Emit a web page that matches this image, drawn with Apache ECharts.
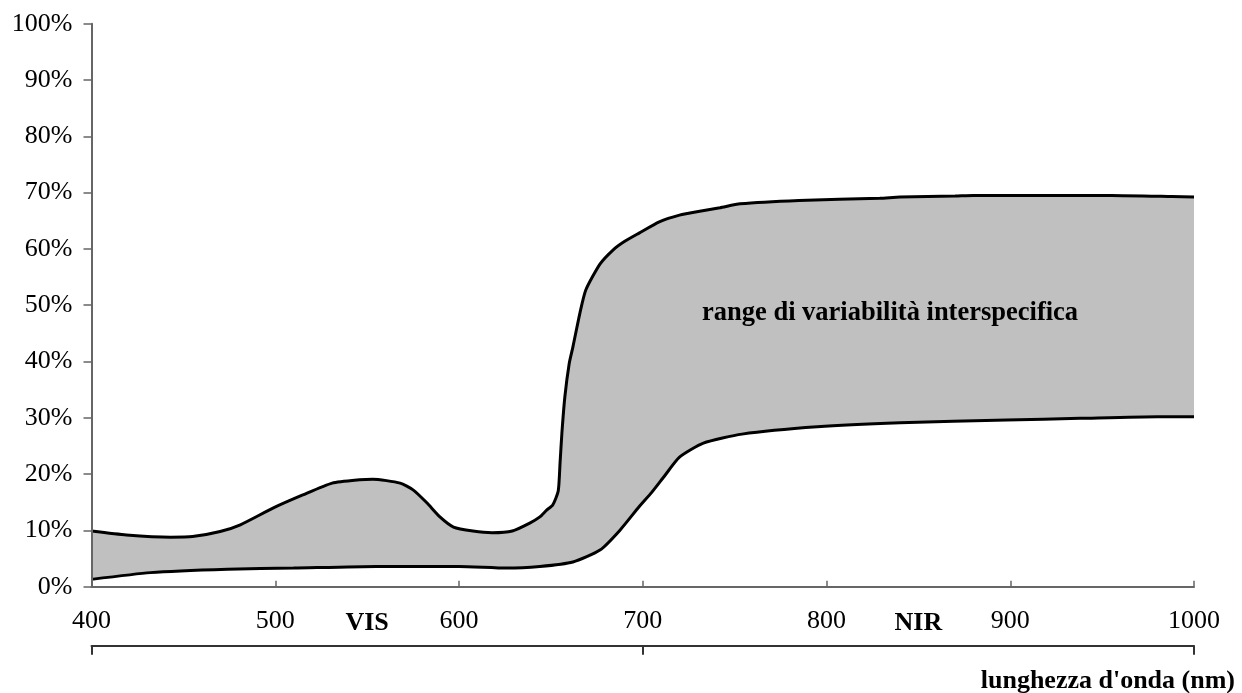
<!DOCTYPE html>
<html>
<head>
<meta charset="utf-8">
<script src="https://cdn.jsdelivr.net/npm/echarts@6/dist/echarts.min.js"></script>
<style>
  html, body { margin: 0; padding: 0; background: #fff; }
  #chart { width: 1242px; height: 693px; }
</style>
</head>
<body>
<div id="chart"></div>
<script>
// Wavelength (nm) and reflectance (%) of the upper envelope
const upperX = [400, 419, 443, 455, 470, 481, 499, 515, 531, 546, 553, 568, 575, 582.5, 589.6, 597, 607.6, 618, 629, 638.5, 644, 647.7, 651, 654, 655, 656, 657.6, 660, 662, 665.8, 669, 676.7, 683.8, 690, 698, 709, 720, 731, 742, 753, 785, 829, 840, 870, 880, 955, 988, 1000];
const upperY = [9.9, 9.2, 8.8, 8.9, 9.8, 11.0, 14.0, 16.3, 18.4, 19.0, 19.1, 18.4, 17.2, 14.9, 12.4, 10.6, 9.9, 9.6, 9.9, 11.3, 12.4, 13.6, 14.5, 17.0, 22.0, 27.3, 33.7, 39.7, 42.6, 48.6, 52.7, 57.3, 59.8, 61.3, 62.8, 64.8, 66.0, 66.7, 67.3, 68.0, 68.6, 69.0, 69.2, 69.4, 69.5, 69.5, 69.3, 69.2];
// Wavelength (nm) and reflectance (%) of the lower envelope
const lowerX = [400, 432, 474, 510, 555, 600, 626, 644, 662, 676.7, 687.5, 698, 705, 711, 720, 733, 754, 795, 840, 898, 938, 980, 1000];
const lowerY = [1.3, 2.5, 3.1, 3.3, 3.6, 3.6, 3.3, 3.6, 4.4, 6.5, 10.0, 14.2, 16.8, 19.3, 23.0, 25.5, 27.1, 28.4, 29.1, 29.6, 29.9, 30.2, 30.2];
// Spectral regions (bracket axis) and their boundaries (nm)
const regions = ['VIS', 'NIR'];
const regionBounds = [400, 700, 1000];
const bandLabel = 'range di variabilità interspecifica';
const xTitle = "lunghezza d'onda (nm)";

const upperData = upperX.map((x, i) => [x, upperY[i]]);
const lowerData = lowerX.map((x, i) => [x, lowerY[i]]);

const SERIF = '"Liberation Serif", "Times New Roman", serif';
const chart = echarts.init(document.getElementById('chart'), null, { renderer: 'canvas' });

chart.setOption({
  animation: false,
  backgroundColor: '#ffffff',
  textStyle: { fontFamily: SERIF },
  grid: { left: 91.5, right: 48, top: 23.7, bottom: 106.3, containLabel: false },
  title: [
    { text: xTitle, right: 2, top: 663,
      textStyle: { fontFamily: SERIF, fontWeight: 'bold', fontSize: 26, color: '#000' } },
    { text: bandLabel, left: 697, top: 295,
      textStyle: { fontFamily: SERIF, fontWeight: 'bold', fontSize: 26.5, color: '#000' } }
  ],
  xAxis: [
    {
      type: 'value', min: 400, max: 1000, interval: 100, position: 'bottom',
      axisLine: { show: true, lineStyle: { color: '#666', width: 2 } },
      axisTick: { show: true, inside: true, length: 6, lineStyle: { color: '#666', width: 1.5 } },
      axisLabel: { margin: 21, fontFamily: SERIF, fontSize: 26, color: '#000',
        formatter: function (v) { return String(v); } },
      splitLine: { show: false },
      z: 10
    },
    {
      type: 'value', min: regionBounds[0], max: regionBounds[2],
      interval: regionBounds[1] - regionBounds[0],
      position: 'bottom', offset: 59,
      axisLine: { show: true, lineStyle: { color: '#333', width: 2 } },
      axisTick: { show: true, inside: false, length: 9, lineStyle: { color: '#333', width: 2 } },
      axisLabel: { show: false },
      splitLine: { show: false }
    },
    {
      type: 'category', data: regions, position: 'bottom', offset: 59, boundaryGap: true,
      axisLine: { show: false },
      axisTick: { show: false },
      axisLabel: { inside: true, margin: 9, fontFamily: SERIF, fontWeight: 'bold', fontSize: 26, color: '#000' },
      splitLine: { show: false }
    }
  ],
  yAxis: {
    type: 'value', min: 0, max: 100, interval: 10,
    axisLine: { show: true, lineStyle: { color: '#666', width: 2 } },
    axisTick: { show: true, inside: false, length: 8, lineStyle: { color: '#666', width: 1.5 } },
    axisLabel: { margin: 19, formatter: '{value}%', fontFamily: SERIF, fontSize: 26, color: '#000' },
    splitLine: { show: false },
    z: 10
  },
  series: [
    {
      type: 'line', xAxisIndex: 0, data: upperData, showSymbol: false, z: 2,
      lineStyle: { color: '#000', width: 3 }, smooth: 0.2,
      areaStyle: { color: '#c0c0c0', opacity: 1, origin: 'start' }
    },
    {
      type: 'line', xAxisIndex: 0, data: lowerData, showSymbol: false, z: 3,
      lineStyle: { color: '#000', width: 3 }, smooth: 0.2,
      areaStyle: { color: '#ffffff', opacity: 1, origin: 'start' }
    }
  ]
});
</script>
</body>
</html>
